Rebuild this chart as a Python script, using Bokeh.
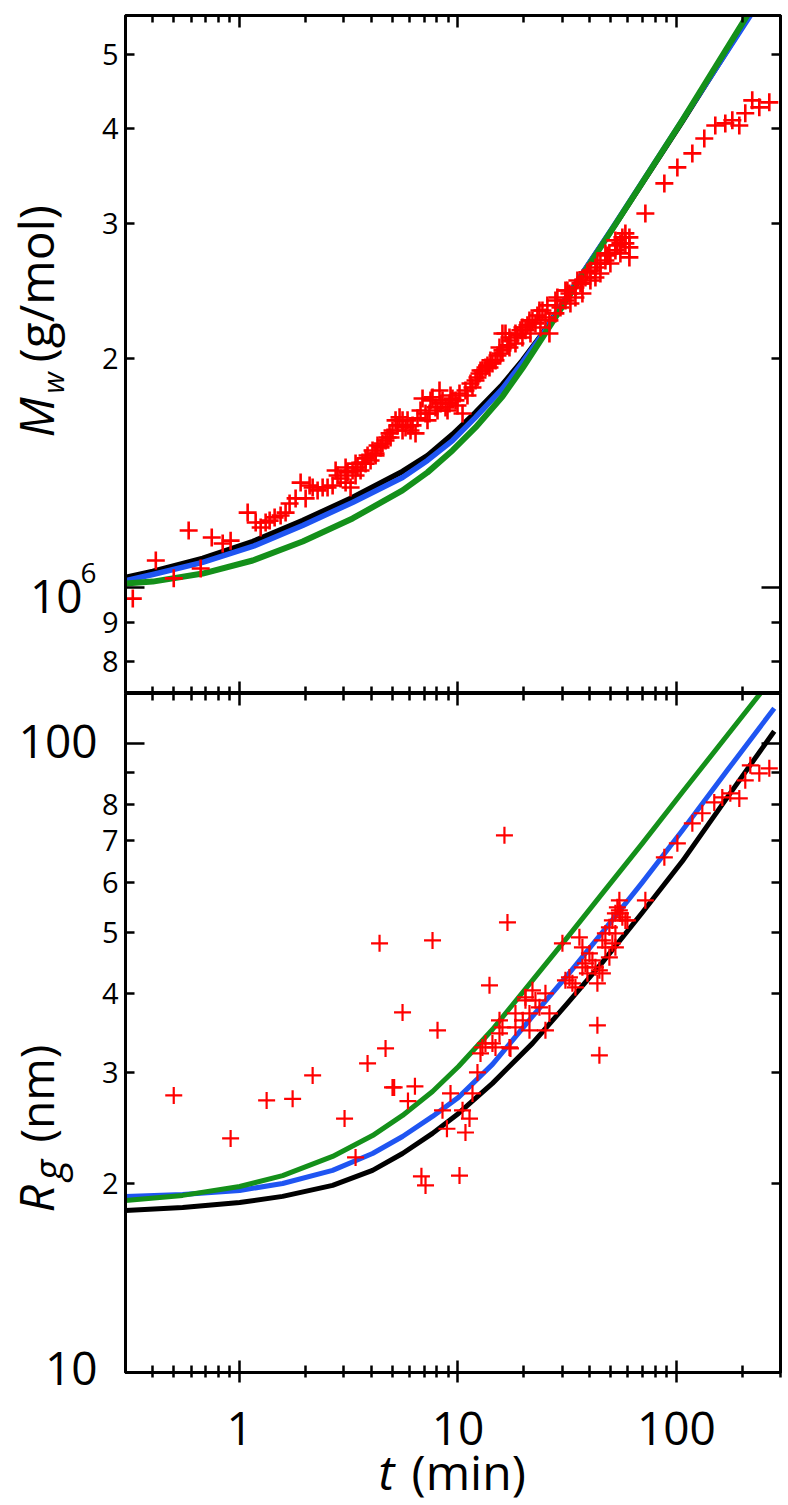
import math
from bokeh.plotting import figure
from bokeh.layouts import column, row
from bokeh.models import FixedTicker, LogAxis, Label, Range1d, CustomJSTickFormatter
from bokeh.embed import file_html
from bokeh.resources import INLINE

FONT = "Open Sans"

# ---------------- data: top panel (Mw, in 10^6 g/mol) ----------------
mw_t = [0.324, 0.413, 0.499, 0.584, 0.663, 0.745, 0.836, 0.909, 1.088, 1.184, 1.248, 1.315, 1.372,
        1.446, 1.540, 1.623, 1.693, 1.804, 1.902, 2.005, 2.091, 2.159, 2.275, 2.399, 2.527, 2.665,
        2.751, 2.809, 2.899, 3.056, 3.056, 3.121, 3.221, 3.290, 3.395, 3.395, 3.467, 3.579, 3.655,
        3.772, 3.772, 3.853, 3.977, 4.061, 4.192, 4.192, 4.281, 4.418, 4.512, 4.658, 4.757, 4.860,
        4.910, 5.013, 5.176, 5.285, 5.400, 5.572, 5.572, 5.750, 5.874, 6.060, 6.193, 6.390, 6.526,
        6.735, 6.880, 7.100, 7.250, 7.405, 7.483, 7.644, 7.889, 8.058, 8.229, 8.316, 8.494, 8.766,
        8.954, 9.144, 9.241, 9.437, 9.741, 9.948, 10.16, 10.49, 10.82, 11.05, 11.41, 11.65, 12.03,
        12.28, 12.54, 12.68, 12.94, 13.36, 13.65, 13.94, 14.08, 14.38, 14.85, 15.17, 15.49, 15.65,
        15.98, 15.98, 16.50, 16.85, 17.21, 17.21, 17.39, 18.33, 18.33, 18.72, 19.32, 19.73, 19.73,
        20.37, 20.80, 21.25, 21.47, 21.93, 22.63, 23.11, 23.61, 23.86, 24.37, 25.15, 25.67, 26.23,
        26.23, 27.94, 27.94, 28.53, 29.46, 31.05, 31.05, 31.70, 32.39, 32.73, 34.50, 34.50, 35.23,
        36.37, 37.14, 37.14, 38.34, 39.15, 40.41, 40.41, 42.60, 42.60, 43.50, 44.90, 44.90, 47.33,
        47.33, 48.33, 49.36, 49.89, 52.59, 52.59, 53.70, 55.43, 55.43, 56.60, 58.43, 58.43, 60.96,
        60.96, 60.96, 72.14, 88.13, 101.1, 118.4, 134.3, 150.8, 167.6, 180.5, 194.3, 206.9, 222.7,
        239.9, 266.6]
mw_mil = [0.967, 1.085, 1.028, 1.188, 1.059, 1.163, 1.142, 1.152, 1.254, 1.217, 1.199, 1.217, 1.224,
          1.236, 1.243, 1.254, 1.289, 1.309, 1.373, 1.309, 1.361, 1.353, 1.341, 1.353, 1.353, 1.361,
          1.424, 1.403, 1.390, 1.373, 1.437, 1.416, 1.353, 1.424, 1.403, 1.454, 1.437, 1.424, 1.459,
          1.454, 1.477, 1.490, 1.468, 1.513, 1.490, 1.499, 1.536, 1.527, 1.545, 1.559, 1.573, 1.593,
          1.573, 1.607, 1.657, 1.632, 1.672, 1.657, 1.607, 1.622, 1.657, 1.607, 1.632, 1.593, 1.667,
          1.707, 1.770, 1.692, 1.657, 1.692, 1.760, 1.776, 1.723, 1.707, 1.813, 1.744, 1.760, 1.723,
          1.707, 1.744, 1.786, 1.770, 1.760, 1.733, 1.797, 1.692, 1.813, 1.786, 1.852, 1.830, 1.869,
          1.886, 1.909, 1.926, 1.926, 1.944, 1.956, 1.944, 1.986, 1.968, 1.986, 2.016, 2.065, 2.028,
          2.154, 2.047, 2.154, 2.078, 2.065, 2.128, 2.109, 2.154, 2.090, 2.142, 2.175, 2.194, 2.128,
          2.175, 2.208, 2.241, 2.154, 2.241, 2.221, 2.275, 2.309, 2.194, 2.309, 2.261, 2.345, 2.154,
          2.241, 2.380, 2.289, 2.402, 2.330, 2.380, 2.453, 2.453, 2.431, 2.358, 2.475, 2.402, 2.528,
          2.506, 2.506, 2.431, 2.551, 2.591, 2.528, 2.606, 2.630, 2.551, 2.662, 2.662, 2.582, 2.686,
          2.744, 2.727, 2.744, 2.662, 2.854, 2.769, 2.811, 2.828, 2.744, 2.880, 2.915, 2.828, 2.880,
          2.794, 2.711, 3.096, 3.390, 3.558, 3.712, 3.883, 4.039, 4.064, 4.102, 4.039, 4.190, 4.357,
          4.266, 4.331]

mw_fit_t = [0.3, 0.400, 0.677, 1.147, 1.943, 3.290, 5.572, 7.252, 9.437, 12.03, 15.98, 19.73,
            24.37, 30.08, 37.14, 52.59, 106.5]
mw_black = [1.031, 1.050, 1.092, 1.149, 1.224, 1.313, 1.420, 1.490, 1.588, 1.697, 1.846, 1.986,
            2.154, 2.358, 2.582, 2.995, 4.088]
mw_blue = [1.021, 1.040, 1.079, 1.132, 1.206, 1.293, 1.394, 1.468, 1.559, 1.672, 1.824, 1.974,
           2.148, 2.358, 2.582, 3.004, 4.102]
mw_green = [1.012, 1.018, 1.043, 1.085, 1.149, 1.232, 1.341, 1.416, 1.513, 1.622, 1.781, 1.939,
            2.128, 2.338, 2.567, 2.995, 4.102]
mw_end_t = [215.9, 218.2, 211.3]       # black, blue, green reach the top border
mw_end = [5.632, 5.632, 5.632]

# ---------------- data: bottom panel (Rg, nm) ----------------
rg_t = [0.499, 0.909, 1.329, 1.748, 2.159, 3.023, 3.395, 3.853, 4.372, 4.658, 5.013, 5.10, 5.572,
        5.90, 6.35, 6.80, 7.10, 7.644, 8.058, 8.492, 8.90, 9.241, 10.16, 10.49, 10.82, 11.29, 11.65,
        12.28, 12.68, 12.94, 13.36, 13.94, 14.38, 14.85, 15.49, 15.49, 15.98, 16.32, 16.85, 17.21,
        17.39, 18.33, 18.33, 19.80, 20.37, 20.37, 21.25, 21.25, 21.93, 22.63, 23.61, 25.15, 25.15,
        26.23, 30.08, 31.05, 32.39, 33.42, 34.50, 35.98, 37.14, 37.14, 38.34, 39.15, 39.99, 41.27,
        42.60, 43.50, 43.50, 44.42, 44.42, 45.85, 45.85, 47.32, 47.32, 49.36, 49.36, 50.94, 50.94,
        52.59, 52.59, 52.59, 53.70, 54.84, 54.84, 55.43, 56.60, 58.43, 59.68, 72.14, 88.13, 101.1,
        118.4, 131.5, 149.2, 162.4, 176.7, 194.3, 206.9, 218.2, 239.9, 266.6]
rg_nm = [27.57, 23.55, 27.07, 27.23, 29.66, 25.33, 21.97, 30.99, 48.09, 32.74, 28.38, 28.38, 37.35,
         27.00, 28.50, 20.50, 19.83, 48.61, 34.98, 26.10, 24.40, 27.77, 20.56, 26.10, 24.07, 25.33,
         27.77, 29.99, 32.15, 32.86, 33.35, 41.24, 33.35, 32.86, 34.59, 36.28, 35.37, 71.41, 51.92,
         32.86, 32.74, 37.22, 35.37, 36.28, 39.47, 39.04, 37.22, 34.98, 40.49, 39.04, 38.05, 40.05,
         34.98, 37.22, 48.09, 42.00, 42.46, 41.54, 40.94, 49.16, 47.39, 44.05, 44.69, 43.09, 46.36,
         45.19, 44.05, 35.63, 41.54, 31.92, 43.57, 48.62, 43.09, 49.88, 47.39, 50.99, 45.69, 52.31,
         48.09, 53.67, 49.88, 47.39, 54.87, 54.26, 56.29, 53.67, 52.89, 52.31, 52.31, 56.29, 65.88,
         69.35, 74.63, 77.42, 80.56, 82.04, 83.27, 81.75, 87.34, 92.26, 89.60, 91.27]

rg_fit_t = [0.3, 0.548, 1.0, 1.573, 2.665, 4.061, 5.572, 7.644, 10.05, 14.38, 21.93, 31.70,
            45.85, 69.89, 106.5, 171.2]
rg_black = [18.09, 18.29, 18.63, 19.05, 19.83, 20.95, 22.29, 23.99, 25.81, 28.81, 33.35, 38.60,
            44.86, 53.85, 64.93, 82.06]
rg_blue = [19.05, 19.19, 19.47, 19.97, 20.95, 22.29, 23.72, 25.53, 27.37, 30.88, 36.81, 42.78,
           50.06, 60.12, 72.71, 90.59]
rg_green = [18.77, 19.12, 19.75, 20.56, 22.05, 23.80, 25.62, 27.97, 30.65, 35.09, 42.00, 49.16,
            57.74, 69.35, 83.58, 103.0]
rg_end_t = [280.9, 280.9, 242.4]       # black, blue, green end points
rg_end = [104.5, 113.7, 120.0]

# tick values
x_major = [1, 10, 100]
x_minor = [0.4, 0.5, 0.6, 0.7, 0.8, 0.9, 2, 3, 4, 5, 6, 7, 8, 9,
           20, 30, 40, 50, 60, 70, 80, 90, 200, 300]
x_labels = ["1", "10", "100"]
mw_labeled = [8e5, 9e5, 2e6, 3e6, 4e6, 5e6]
mw_long = [1e6]
rg_labeled = [20, 30, 40, 50, 60, 70, 80, 90]
rg_long = [10, 100]

RED = "#ff0000"
BLUE = "#1f55f2"
GREEN = "#14901a"

LEFT_W = 98      # strip holding the left-hand texts
AX_W = 26        # room for the small tick labels
FRAME_W = 655
RIGHT_B = 8
BASE_K = 0.37    # Label baseline correction (fraction of font size)

x_range = Range1d(0.3, 300)


def style_axis(ax, maj_in, maj_out, min_in, min_out, size="0px", standoff=0):
    ax.axis_line_width = 3
    ax.axis_line_color = "black"
    ax.major_tick_line_width = 2.5
    ax.minor_tick_line_width = 2.5
    ax.major_tick_line_color = "black"
    ax.minor_tick_line_color = "black"
    ax.major_tick_in = maj_in
    ax.major_tick_out = maj_out
    ax.minor_tick_in = min_in
    ax.minor_tick_out = min_out
    ax.major_label_text_font = FONT
    ax.major_label_text_font_size = size
    ax.major_label_text_color = "black"
    ax.major_label_standoff = standoff
    ax.axis_label = None
    return ax


blank = CustomJSTickFormatter(code="return '';")


def base_fig(yr, frame_h, top, bottom):
    p = figure(x_axis_type="log", y_axis_type="log", x_range=x_range, y_range=yr,
               frame_width=FRAME_W, frame_height=frame_h,
               min_border_left=AX_W, min_border_right=RIGHT_B,
               min_border_top=top, min_border_bottom=bottom,
               x_axis_location=None, y_axis_location=None,
               output_backend="svg", toolbar_location=None,
               background_fill_color="white", border_fill_color="white",
               outline_line_color="black", outline_line_width=3)
    p.grid.visible = False
    return p


def strip(w, h, xr=None, x_log=False, left=0, right=0):
    p = figure(x_axis_type="log" if x_log else "linear",
               x_range=xr if xr is not None else Range1d(0, w), y_range=Range1d(0, h),
               frame_width=w, frame_height=h,
               min_border_left=left, min_border_right=right, min_border_top=0, min_border_bottom=0,
               x_axis_location=None, y_axis_location=None,
               output_backend="svg", toolbar_location=None,
               background_fill_color="white", border_fill_color="white",
               outline_line_color=None)
    p.grid.visible = False
    return p


def lab(p, x, y, text, size, italic=False, align="left", rotated=False, x_units="canvas"):
    """x, y: wanted baseline anchor in canvas pixels."""
    px = float(size.replace("px", ""))
    if rotated:
        x = x - BASE_K * px
    else:
        y = y - BASE_K * px
    p.add_layout(Label(x=x, y=y, x_units=x_units, y_units="canvas", text=text,
                       text_font=FONT, text_font_size=size,
                       text_font_style="italic" if italic else "normal",
                       text_align=align, text_baseline="alphabetic",
                       text_color="black", angle=math.pi / 2 if rotated else 0.0))


xt = FixedTicker(ticks=x_major, minor_ticks=x_minor)

# ---------------- top panel ----------------
p1 = base_fig(Range1d(7.26e5, 5.63e6), 678, 15, 0)
p1.add_layout(style_axis(LogAxis(ticker=xt, formatter=blank), 12, 0, 7, 0), "above")
p1.add_layout(style_axis(LogAxis(ticker=xt, formatter=blank), 12, 0, 7, 0), "below")
mw_ticker = FixedTicker(ticks=mw_labeled, minor_ticks=mw_long)
mw_fmt = CustomJSTickFormatter(code="return tick >= 1e6 ? (tick/1e6).toFixed(0) : (tick/1e5).toFixed(0);")
p1.add_layout(style_axis(LogAxis(ticker=mw_ticker, formatter=mw_fmt), 9, 0, 19, 0, "29px", 7), "left")
p1.add_layout(style_axis(LogAxis(ticker=mw_ticker, formatter=blank), 9, 0, 19, 0), "right")

for i, (vals, col, lw) in enumerate([(mw_black, "black", 5.5), (mw_blue, BLUE, 5.5), (mw_green, GREEN, 6)]):
    p1.line(mw_fit_t + [mw_end_t[i]], [v * 1e6 for v in vals + [mw_end[i]]],
            line_color=col, line_width=lw, line_join="round")
p1.scatter(mw_t, [v * 1e6 for v in mw_mil], marker="cross", size=18,
           line_color=RED, line_width=2.6)

# ---------------- bottom panel ----------------
p2 = base_fig(Range1d(10, 120), 679, 0, 14)
p2.add_layout(style_axis(LogAxis(ticker=xt, formatter=blank), 12, 0, 7, 0), "above")
p2.add_layout(style_axis(LogAxis(ticker=xt, formatter=blank), 12, 10, 7, 5), "below")
rg_ticker = FixedTicker(ticks=rg_labeled, minor_ticks=rg_long)
rg_fmt = CustomJSTickFormatter(code="return tick == 90 ? '' : (tick/10).toFixed(0);")
p2.add_layout(style_axis(LogAxis(ticker=rg_ticker, formatter=rg_fmt), 9, 0, 19, 0, "29px", 7), "left")
p2.add_layout(style_axis(LogAxis(ticker=rg_ticker, formatter=blank), 9, 0, 19, 0), "right")

for i, (vals, col, lw) in enumerate([(rg_black, "black", 5), (rg_blue, BLUE, 5), (rg_green, GREEN, 5)]):
    p2.line(rg_fit_t + [rg_end_t[i]], vals + [rg_end[i]],
            line_color=col, line_width=lw, line_join="round")
p2.scatter(rg_t, rg_nm, marker="cross", size=17, line_color=RED, line_width=2.2)

# ---------------- strip under the bottom panel: x tick labels + x title ----------------
B_H = 118
pb = strip(FRAME_W, B_H, xr=x_range, x_log=True, left=AX_W, right=RIGHT_B)
for xv, txt in zip(x_major, x_labels):
    lab(pb, xv, 59, txt, "46px", align="center", x_units="data")
lab(pb, 280, 103, "t", "48px", italic=True)
lab(pb, 313, 103, "(min)", "48px")

# ---------------- left strips: big tick labels + y titles ----------------
l1 = strip(LEFT_W, 693)
lab(l1, 82, 613, "10", "46px", align="right")
lab(l1, 96, 583, "6", "28px", align="right")
lab(l1, 53, 437, "M", "48px", italic=True, rotated=True)
lab(l1, 63, 393, "w", "30px", italic=True, rotated=True)
lab(l1, 53, 362, "(g/mol)", "48px", rotated=True)

l2 = strip(LEFT_W, 693 + B_H)
lab(l2, 97, 65, "100", "46px", align="right")
lab(l2, 97, 692, "10", "46px", align="right")
lab(l2, 53, 519, "R", "48px", italic=True, rotated=True)
lab(l2, 62, 487, "g", "40px", italic=True, rotated=True)
lab(l2, 53, 449, "(nm)", "46px", rotated=True)

layout = row(column(l1, l2, spacing=0), column(p1, p2, pb, spacing=0), spacing=0)
open("out.html", "w").write(file_html(layout, INLINE))
